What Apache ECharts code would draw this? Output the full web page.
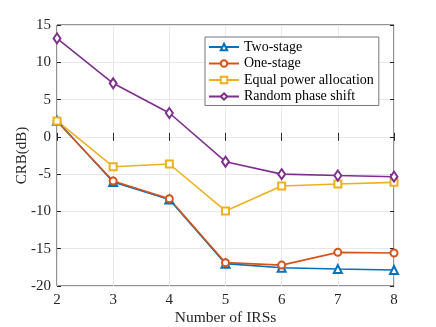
<!DOCTYPE html>
<html lang="en">
<head>
    <meta charset="UTF-8">
    <title>CRB vs Number of IRSs</title>
    <script src="https://cdn.jsdelivr.net/npm/echarts@6/dist/echarts.min.js"></script>
    <style>
        body { margin: 0; background: #fff; }
        #chart { width: 436px; height: 327px; }
    </style>
</head>
<body>
    <div id="chart"></div>
    <script>
        // data
        var irsCount = [2, 3, 4, 5, 6, 7, 8];
        var twoStage = [2.15, -6.05, -8.4, -17.0, -17.55, -17.73, -17.86];
        var oneStage = [2.05, -5.92, -8.3, -16.87, -17.2, -15.49, -15.57];
        var equalPower = [2.13, -4.0, -3.64, -9.94, -6.6, -6.33, -6.1];
        var randomPhase = [13.2, 7.18, 3.2, -3.33, -5.0, -5.18, -5.34];

        var font = 'Liberation Serif, Times New Roman, serif';
        var axisColor = '#262626';

        function pairs(vals) {
            return irsCount.map(function (x, i) { return [x, vals[i]]; });
        }

        function makeSeries(name, vals, color, symbol, size) {
            return {
                name: name,
                type: 'line',
                data: pairs(vals),
                symbol: symbol,
                symbolSize: size,
                showAllSymbol: true,
                lineStyle: { color: color, width: 1.6 },
                itemStyle: { color: color, borderColor: color, borderWidth: 1.5 }
            };
        }

        var chart = echarts.init(document.getElementById('chart'));
        var option = {
            animation: false,
            grid: {
                left: 57, right: 42, top: 25, bottom: 41,
                outerBoundsMode: 'none', containLabel: false,
                show: true, borderColor: axisColor, borderWidth: 1
            },
            legend: {
                orient: 'vertical',
                left: 205, top: 37,
                padding: [3, 5, 2, 3],
                itemWidth: 30, itemHeight: 8, itemGap: 2.5,
                backgroundColor: '#fff',
                borderColor: '#777', borderWidth: 1, borderRadius: 0,
                textStyle: { fontFamily: font, fontSize: 14, color: '#000' },
                data: ['Two-stage', 'One-stage', 'Equal power allocation', 'Random phase shift']
            },
            xAxis: [{
                type: 'value', min: 2, max: 8, interval: 1,
                name: 'Number of IRSs', nameLocation: 'middle', nameGap: 24,
                nameMoveOverlap: false,
                nameTextStyle: { fontFamily: font, fontSize: 15.5, color: '#262626' },
                axisLine: { show: false },
                axisTick: { inside: true, length: 4, lineStyle: { color: axisColor } },
                axisLabel: { fontFamily: font, fontSize: 15, color: '#262626', margin: 7 },
                splitLine: { lineStyle: { color: '#e8e8e8' } }
            }, {
                type: 'value', min: 2, max: 8, interval: 1, position: 'top',
                axisLine: { show: false },
                axisTick: { inside: true, length: 4, lineStyle: { color: axisColor } },
                axisLabel: { show: false }, splitLine: { show: false }
            }],
            yAxis: [{
                type: 'value', min: -20, max: 15, interval: 5,
                name: 'CRB(dB)', nameLocation: 'middle', nameGap: 27,
                nameMoveOverlap: false,
                nameTextStyle: { fontFamily: font, fontSize: 15, color: '#262626' },
                axisLine: { show: false },
                axisTick: { inside: true, length: 4, lineStyle: { color: axisColor } },
                axisLabel: { fontFamily: font, fontSize: 15, color: '#262626', margin: 6 },
                splitLine: { lineStyle: { color: '#e8e8e8' } }
            }, {
                type: 'value', min: -20, max: 15, interval: 5, position: 'right',
                axisLine: { show: false },
                axisTick: { inside: true, length: 4, lineStyle: { color: axisColor } },
                axisLabel: { show: false }, splitLine: { show: false }
            }],
            series: [
                makeSeries('Two-stage', twoStage, '#0072BD', 'emptyTriangle', 8),
                makeSeries('One-stage', oneStage, '#D95319', 'emptyCircle', 7),
                makeSeries('Equal power allocation', equalPower, '#EDB120', 'emptyRect', 7),
                makeSeries('Random phase shift', randomPhase, '#7E2F8E', 'emptyDiamond', [7, 10])
            ]
        };
        chart.setOption(option);
    </script>
</body>
</html>
